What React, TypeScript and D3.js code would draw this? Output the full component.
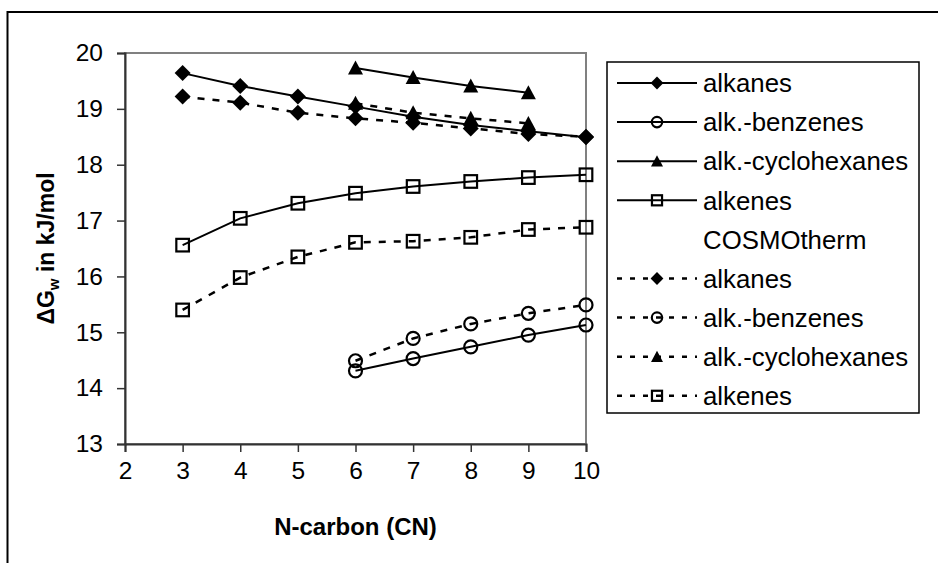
import React, { useEffect, useRef } from "react";
import * as d3 from "d3";

// carbon numbers for each group of series
const cnAll = [3, 4, 5, 6, 7, 8, 9, 10];
const cnBenzenes = [6, 7, 8, 9, 10];
const cnCyclohexanes = [6, 7, 8, 9];

// experimental values (solid lines)
const expAlkanes = [19.64, 19.41, 19.22, 19.04, 18.86, 18.71, 18.6, 18.49];
const expBenzenes = [14.31, 14.53, 14.74, 14.95, 15.13];
const expCyclohexanes = [19.73, 19.56, 19.41, 19.29];
const expAlkenes = [16.56, 17.04, 17.31, 17.49, 17.61, 17.7, 17.77, 17.82];

// COSMOtherm predictions (dashed lines)
const cosmoAlkanes = [19.22, 19.11, 18.93, 18.83, 18.75, 18.65, 18.55, 18.5];
const cosmoBenzenes = [14.49, 14.89, 15.15, 15.34, 15.49];
const cosmoCyclohexanes = [19.1, 18.93, 18.83, 18.74];
const cosmoAlkenes = [15.4, 15.98, 16.35, 16.61, 16.63, 16.7, 16.84, 16.88];

const xTicks = [2, 3, 4, 5, 6, 7, 8, 9, 10];
const yTicks = [13, 14, 15, 16, 17, 18, 19, 20];

const FONT = "'Liberation Sans', Arial, sans-serif";

type Marker = "diamond" | "circle" | "triangle" | "square";

const seriesList: { name: string; xs: number[]; ys: number[]; marker: Marker; dashed: boolean }[] = [
  { name: "alkanes", xs: cnAll, ys: expAlkanes, marker: "diamond", dashed: false },
  { name: "alk.-benzenes", xs: cnBenzenes, ys: expBenzenes, marker: "circle", dashed: false },
  { name: "alk.-cyclohexanes", xs: cnCyclohexanes, ys: expCyclohexanes, marker: "triangle", dashed: false },
  { name: "alkenes", xs: cnAll, ys: expAlkenes, marker: "square", dashed: false },
  { name: "alkanes", xs: cnAll, ys: cosmoAlkanes, marker: "diamond", dashed: true },
  { name: "alk.-benzenes", xs: cnBenzenes, ys: cosmoBenzenes, marker: "circle", dashed: true },
  { name: "alk.-cyclohexanes", xs: cnCyclohexanes, ys: cosmoCyclohexanes, marker: "triangle", dashed: true },
  { name: "alkenes", xs: cnAll, ys: cosmoAlkenes, marker: "square", dashed: true },
];

// draws one marker centred on (0,0) inside g
const drawMarker = (g: any, type: Marker, s: number) => {
  if (type === "diamond") {
    g.append("path")
      .attr("d", `M0,${-8 * s}L${8 * s},0L0,${8 * s}L${-8 * s},0Z`)
      .attr("fill", "#000");
  } else if (type === "triangle") {
    g.append("path")
      .attr("d", `M0,${-7.5 * s}L${7.5 * s},${6.5 * s}L${-7.5 * s},${6.5 * s}Z`)
      .attr("fill", "#000");
  } else if (type === "square") {
    g.append("rect")
      .attr("x", -6.3 * s)
      .attr("y", -6.3 * s)
      .attr("width", 12.6 * s)
      .attr("height", 12.6 * s)
      .attr("fill", "none")
      .attr("stroke", "#000")
      .attr("stroke-width", 2.2);
  } else {
    g.append("circle")
      .attr("r", 6.5 * s)
      .attr("fill", "none")
      .attr("stroke", "#000")
      .attr("stroke-width", 2.2);
  }
};

const Chart = () => {
  const svgRef = useRef<SVGSVGElement>(null);

  useEffect(() => {
    const width = 938;
    const height = 563;
    const left = 125;
    const right = 586;
    const top = 53;
    const bottom = 444;

    const svg = d3.select(svgRef.current).attr("width", width).attr("height", height);
    svg.selectAll("*").remove();

    // outer chart frame (only top and left visible)
    svg
      .append("rect")
      .attr("x", 7.5)
      .attr("y", 12)
      .attr("width", 1000)
      .attr("height", 1000)
      .attr("fill", "#fff")
      .attr("stroke", "#000")
      .attr("stroke-width", 2);

    const xScale = d3.scaleLinear().domain([2, 10]).range([left, right]);
    const yScale = d3.scaleLinear().domain([13, 20]).range([bottom, top]);

    // plot area border
    svg
      .append("rect")
      .attr("x", left)
      .attr("y", top)
      .attr("width", right - left)
      .attr("height", bottom - top)
      .attr("fill", "none")
      .attr("stroke", "#808080")
      .attr("stroke-width", 2);

    const xAxis = d3.axisBottom(xScale).tickValues(xTicks).tickSize(8).tickPadding(10).tickFormat(d3.format("d"));
    const gx = svg.append("g").attr("transform", `translate(0,${bottom})`).call(xAxis);
    gx.select(".domain").attr("stroke", "#333").attr("stroke-width", 2);
    gx.selectAll("line").attr("stroke", "#333").attr("stroke-width", 1.5);
    gx.selectAll("text").attr("font-family", FONT).attr("font-size", 24.5).attr("fill", "#000");

    const yAxis = d3.axisLeft(yScale).tickValues(yTicks).tickSize(8).tickPadding(14).tickFormat(d3.format("d"));
    const gy = svg.append("g").attr("transform", `translate(${left},0)`).call(yAxis);
    gy.select(".domain").attr("stroke", "#333").attr("stroke-width", 2);
    gy.selectAll("line").attr("stroke", "#333").attr("stroke-width", 1.5);
    gy.selectAll("text").attr("font-family", FONT).attr("font-size", 24.5).attr("fill", "#000");

    // series lines and markers
    const line = d3
      .line<[number, number]>()
      .x((d) => xScale(d[0]))
      .y((d) => yScale(d[1]));

    seriesList.forEach((s) => {
      const pts: [number, number][] = s.xs.map((x, i) => [x, s.ys[i]]);
      svg
        .append("path")
        .datum(pts)
        .attr("d", line)
        .attr("fill", "none")
        .attr("stroke", "#000")
        .attr("stroke-width", s.dashed ? 2.5 : 2)
        .attr("stroke-dasharray", s.dashed ? "7,8" : null);
      pts.forEach((p) => {
        const g = svg.append("g").attr("transform", `translate(${xScale(p[0])},${yScale(p[1])})`);
        drawMarker(g, s.marker, 1);
      });
    });

    // axis titles
    svg
      .append("text")
      .attr("x", (left + right) / 2)
      .attr("y", 535)
      .attr("text-anchor", "middle")
      .attr("font-family", FONT)
      .attr("font-weight", "bold")
      .attr("font-size", 24)
      .text("N-carbon (CN)");

    const yTitle = svg
      .append("text")
      .attr("transform", `translate(54,${(top + bottom) / 2}) rotate(-90)`)
      .attr("text-anchor", "middle")
      .attr("font-family", FONT)
      .attr("font-weight", "bold")
      .attr("font-size", 23);
    yTitle.append("tspan").text("\u0394G");
    yTitle.append("tspan").attr("font-size", 15).attr("dy", 5).text("w");
    yTitle.append("tspan").attr("dy", -5).text(" in kJ/mol");

    // legend
    const legend = svg.append("g");
    legend
      .append("rect")
      .attr("x", 607)
      .attr("y", 62)
      .attr("width", 312)
      .attr("height", 351)
      .attr("fill", "#fff")
      .attr("stroke", "#000")
      .attr("stroke-width", 1.5);

    const rows: { label: string; s: (typeof seriesList)[number] | null }[] = [
      ...seriesList.slice(0, 4).map((s) => ({ label: s.name, s })),
      { label: "COSMOtherm", s: null },
      ...seriesList.slice(4).map((s) => ({ label: s.name, s })),
    ];

    rows.forEach((r, i) => {
      const cy = 83 + i * 39.1;
      if (r.s) {
        legend
          .append("line")
          .attr("x1", 617)
          .attr("x2", 697)
          .attr("y1", cy)
          .attr("y2", cy)
          .attr("stroke", "#000")
          .attr("stroke-width", r.s.dashed ? 2.5 : 2)
          .attr("stroke-dasharray", r.s.dashed ? "5,8" : null);
        const g = legend.append("g").attr("transform", `translate(657,${cy})`);
        drawMarker(g, r.s.marker, 0.8);
      }
      legend
        .append("text")
        .attr("x", 703)
        .attr("y", cy)
        .attr("dy", "0.36em")
        .attr("font-family", FONT)
        .attr("font-size", 25.8)
        .text(r.label);
    });
  }, []);

  return <svg ref={svgRef} style={{ position: "absolute", left: 0, top: 0 }}></svg>;
};

export default function App() {
  return <Chart />;
}
